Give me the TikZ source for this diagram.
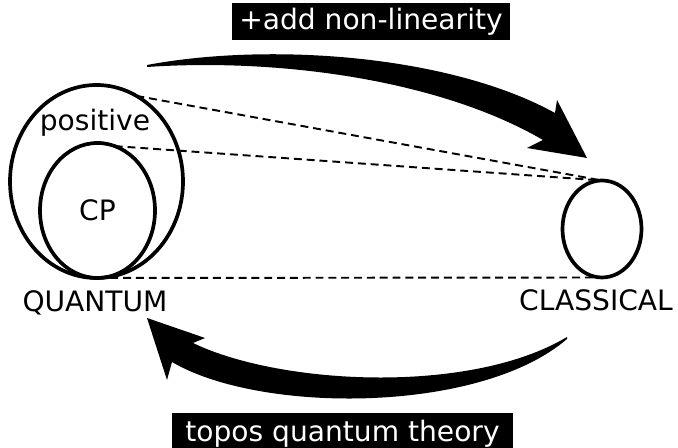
\documentclass[tikz,border=0pt]{standalone}
\usepackage{fontspec}
\setmainfont{DejaVu Sans}
\usetikzlibrary{shapes.geometric}
\tikzset{
  ring/.style={ellipse, draw=black, line width=2.1pt, inner sep=0pt, outer sep=0pt},
  guideline/.style={draw=black, line width=1.1pt, dash pattern=on 4.5pt off 2.8pt},
  word/.style={font=\fontsize{16}{19}\selectfont, inner sep=0pt},
  tag/.style={word, fill=black, text=white},
  sweep/.style={fill=black, draw=none},
}

\begin{document}
\begin{tikzpicture}
\useasboundingbox (0,0) rectangle (13.56,8.96);
\node[ring, minimum width=3.46cm, minimum height=3.86cm] (pos) at (1.930,5.330) {};
\node[ring, word, minimum width=2.30cm, minimum height=2.70cm] (cp) at (1.950,4.750) {CP};
\node[ring, minimum width=1.58cm, minimum height=1.94cm] (cls) at (12.040,4.380) {};
\node[word] (posname) at (1.900,6.500) {positive};
\node[word] (quantum) at (1.900,2.900) {QUANTUM};
\node[word] (classical) at (11.920,2.960) {CLASSICAL};
\node[tag, minimum width=5.56cm, minimum height=0.74cm] (addnl) at (7.420,8.530) {+add non-linearity};
\node[tag, minimum width=6.82cm, minimum height=0.82cm] (topos) at (6.850,0.290) {topos quantum theory};
\draw[guideline] (pos.65) -- (cls.north);
\draw[guideline] (cp.75) -- (cls.north);
\draw[guideline] (cp.south) -- (cls.south);
\fill[sweep] (2.940,7.660) .. controls (5.400,8.120) and (9.000,7.860) .. (11.100,6.700)
  -- (11.140,6.960) -- (11.740,5.800) -- (10.540,6.000) -- (10.860,6.160)
  .. controls (8.800,7.360) and (5.600,7.800) .. (2.940,7.620) -- cycle;
\fill[sweep] (3.860,2.100) .. controls (5.600,1.260) and (9.400,1.060) .. (11.340,2.220)
  -- (11.340,2.180) .. controls (9.600,0.680) and (5.200,0.680) .. (3.440,1.720)
  -- (3.340,1.360) -- (2.940,2.600) -- (4.100,2.200) -- cycle;
\end{tikzpicture}
\end{document}
